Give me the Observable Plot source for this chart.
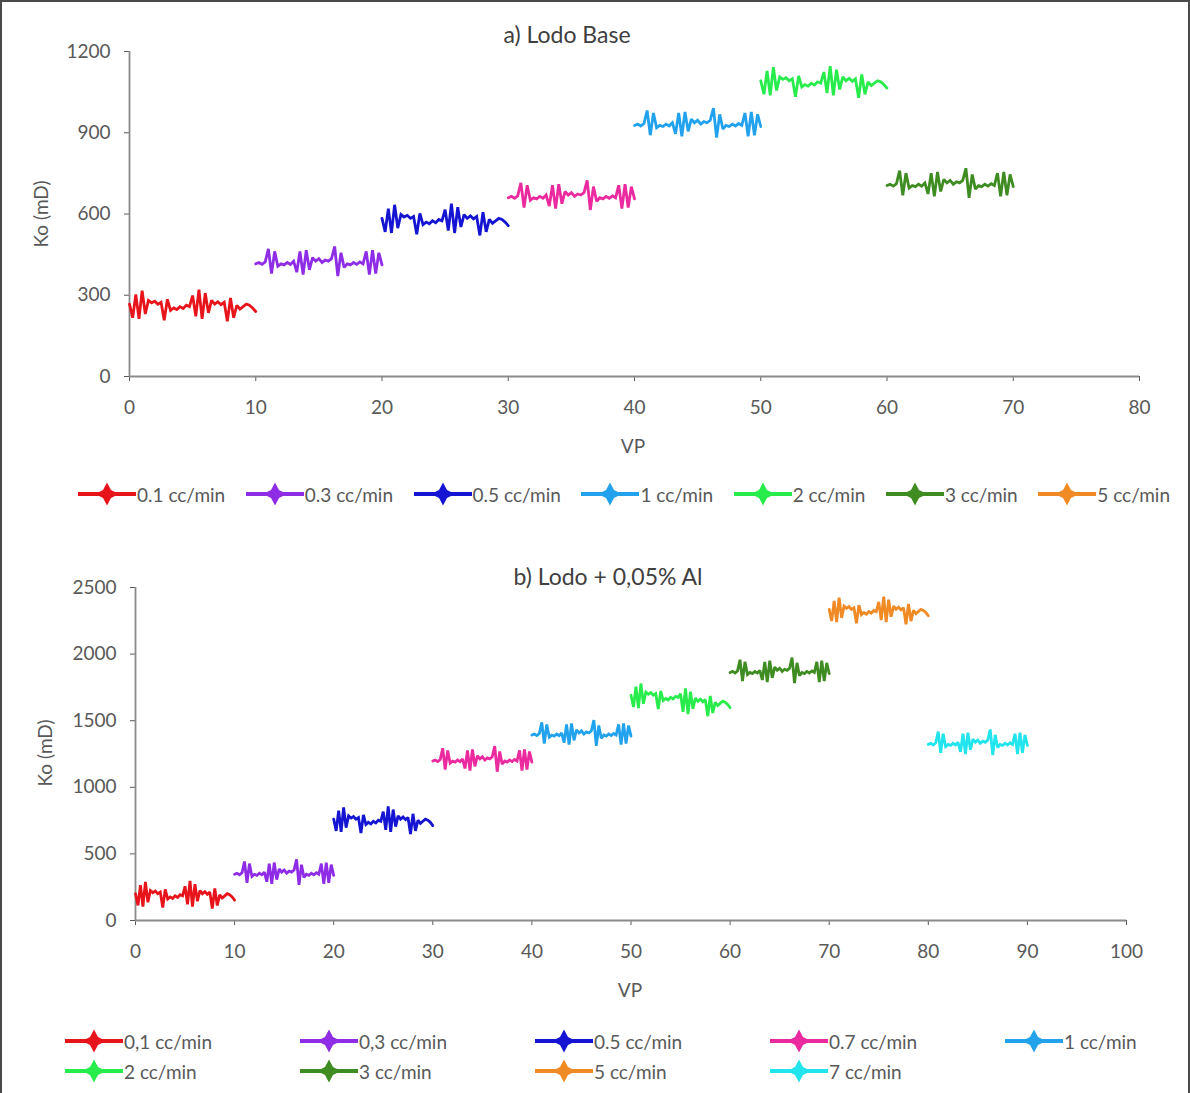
<!DOCTYPE html>
<html><head><meta charset="utf-8">
<script src="https://cdn.jsdelivr.net/npm/d3@7"></script>
<script src="https://cdn.jsdelivr.net/npm/@observablehq/plot@0.6"></script>
<style>
body{margin:0;background:#fff;}
#root{position:relative;width:1190px;height:1093px;overflow:hidden;font-family:Lato,"Open Sans",sans-serif;color:#404040;background:#fff;}
#frame{position:absolute;left:0;top:0;width:1190px;height:1093px;box-sizing:border-box;border:2px solid #4a4a4a;border-bottom:none;pointer-events:none;}
.abs{position:absolute;white-space:nowrap;}
.title{font-size:23px;transform:translate(-50%,-50%);color:#404040;}
.axlab{font-size:19px;transform:translate(-50%,-50%);color:#595959;}
.ylab{font-size:19px;transform:translate(-50%,-50%) rotate(-90deg);color:#595959;}
.legA{display:flex;justify-content:space-between;align-items:center;}
.legB{display:grid;grid-template-columns:repeat(5,235px);grid-auto-rows:30px;align-items:center;}
.item{display:flex;align-items:center;gap:1px;font-size:19px;color:#595959;}
.plot{position:absolute;left:0;}
</style>
</head><body>
<div id="root"></div>
<script>
const xStep = 0.25;

// ---------- Panel a) Lodo Base ----------
const aNames = ["0.1 cc/min","0.3 cc/min","0.5 cc/min","1 cc/min","2 cc/min","3 cc/min","5 cc/min"];
const aColors = ["#e8141c","#8e2ce6","#1414d2","#22a2ec","#27ec4c","#3f8c22","#f08a24"];
const aStarts = [0,10,20,30,40,50,60];
const aLineNames = ["0.1 cc/min","0.3 cc/min","0.5 cc/min","0.7 cc/min","1 cc/min","2 cc/min","3 cc/min"];
const aLineColors = ["#e8141c","#8e2ce6","#1414d2","#ea2a9e","#22a2ec","#27ec4c","#3f8c22"];
const a01 = [267,217,303,213,317,231,281,272,278,267,274,208,285,244,253,247,258,251,263,258,299,222,321,213,308,235,281,267,276,265,274,204,290,217,263,249,258,267,263,253,240];
const a03 = [416,421,414,423,471,380,462,407,416,412,421,414,426,385,462,376,466,394,439,426,435,421,430,426,435,480,371,457,403,416,412,421,414,423,416,462,376,466,380,457,412];
const a05 = [584,534,620,530,634,548,598,589,595,584,591,525,602,561,570,564,575,568,580,575,616,539,638,530,625,552,598,584,593,582,591,521,607,534,580,566,575,584,580,570,557];
const a07 = [660,665,658,667,715,624,706,651,660,656,665,658,670,629,706,620,710,638,683,670,679,665,674,670,679,724,615,701,647,660,656,665,658,667,660,706,620,710,624,701,656];
const a1  = [927,932,925,934,982,891,973,918,927,923,932,925,937,896,973,887,977,905,950,937,946,932,941,937,946,991,882,968,914,927,923,932,925,934,927,973,887,977,891,968,923];
const a2  = [1092,1042,1128,1038,1142,1056,1106,1097,1103,1092,1099,1033,1110,1069,1078,1072,1083,1076,1088,1083,1124,1047,1146,1038,1133,1060,1106,1092,1101,1090,1099,1029,1115,1042,1088,1074,1083,1092,1088,1078,1065];
const a3  = [705,710,703,712,760,669,751,696,705,701,710,703,715,674,751,665,755,683,728,715,724,710,719,715,724,769,660,746,692,705,701,710,703,712,705,751,665,755,669,746,701];
const aSeries = [a01,a03,a05,a07,a1,a2,a3];
const aXTicks = [0,10,20,30,40,50,60,70,80];
const aYTicks = [0,300,600,900,1200];

// ---------- Panel b) Lodo + 0,05% Al ----------
const bNames = ["0,1 cc/min","0,3 cc/min","0.5 cc/min","0.7 cc/min","1 cc/min","2 cc/min","3 cc/min","5 cc/min","7 cc/min"];
const bColors = ["#e8141c","#8e2ce6","#1414d2","#ea2a9e","#22a2ec","#27ec4c","#3f8c22","#f08a24","#22e4ec"];
const bStarts = [0,10,20,30,40,50,60,70,80];
const b01 = [201,113,265,105,289,137,225,209,221,201,213,97,233,161,177,165,185,173,193,185,257,121,297,105,273,145,225,201,217,197,213,89,241,113,193,169,185,201,193,177,153];
const b03 = [347,355,343,359,443,283,427,331,347,339,355,343,363,291,427,275,435,307,387,363,379,355,371,363,379,459,267,419,323,347,339,355,343,359,347,427,275,435,283,419,339];
const b05 = [761,673,825,665,849,697,785,769,781,761,773,657,793,721,737,725,745,733,753,745,817,681,857,665,833,705,785,761,777,757,773,649,801,673,753,729,745,761,753,737,713];
const b07 = [1197,1205,1193,1209,1293,1133,1277,1181,1197,1189,1205,1193,1213,1141,1277,1125,1285,1157,1237,1213,1229,1205,1221,1213,1229,1309,1117,1269,1173,1197,1189,1205,1193,1209,1197,1277,1125,1285,1133,1269,1189];
const b1  = [1392,1400,1388,1404,1488,1328,1472,1376,1392,1384,1400,1388,1408,1336,1472,1320,1480,1352,1432,1408,1424,1400,1416,1408,1424,1504,1312,1464,1368,1392,1384,1400,1388,1404,1392,1472,1320,1480,1328,1464,1384];
const b2  = [1691,1603,1755,1595,1779,1627,1715,1699,1711,1691,1703,1587,1723,1651,1667,1655,1675,1663,1683,1675,1702,1566,1742,1550,1718,1590,1670,1646,1662,1642,1658,1534,1686,1558,1638,1614,1630,1646,1638,1622,1598];
const b3  = [1862,1870,1858,1874,1958,1798,1942,1846,1862,1854,1870,1858,1878,1806,1942,1790,1950,1822,1902,1878,1894,1870,1886,1878,1894,1974,1782,1934,1838,1862,1854,1870,1858,1874,1862,1942,1790,1950,1798,1934,1854];
const b5  = [2336,2248,2400,2240,2424,2272,2360,2344,2356,2336,2348,2232,2368,2296,2312,2300,2320,2308,2328,2320,2392,2256,2432,2240,2408,2280,2360,2336,2352,2332,2348,2224,2376,2248,2328,2304,2320,2336,2328,2312,2288];
const b7  = [1322,1330,1318,1334,1418,1258,1402,1306,1322,1314,1330,1318,1338,1266,1402,1250,1410,1282,1362,1338,1354,1330,1346,1338,1354,1434,1242,1394,1298,1322,1314,1330,1318,1334,1322,1402,1250,1410,1258,1394,1314];
const bSeries = [b01,b03,b05,b07,b1,b2,b3,b5,b7];
const bXTicks = [0,10,20,30,40,50,60,70,80,90,100];
const bYTicks = [0,500,1000,1500,2000,2500];

const root = document.getElementById("root");

function toRows(series, names, starts) {
  const rows = [];
  series.forEach((vals, k) => vals.forEach((v, i) => rows.push({vp: starts[k] + i * xStep, ko: v, s: names[k]})));
  return rows;
}

function panel(opts) {
  const rows = toRows(opts.series, opts.names, opts.starts);
  const p = Plot.plot({
    width: 1190, height: opts.height,
    marginLeft: opts.ml, marginRight: opts.mr, marginTop: opts.mt, marginBottom: opts.mb,
    style: {fontFamily: "Lato, sans-serif", fontSize: "19px", color: "#595959", background: "transparent", overflow: "visible"},
    x: {domain: opts.xDomain},
    y: {domain: opts.yDomain},
    color: {domain: opts.names, range: opts.colors},
    marks: [
      Plot.axisX({ticks: opts.xTicks, tickSize: 5, tickPadding: 19, label: null, color: "#595959", tickFormat: d => String(d)}),
      Plot.axisY({ticks: opts.yTicks, tickSize: 5, tickPadding: 14, label: null, color: "#595959", tickFormat: d => String(d)}),
      Plot.ruleX([0], {stroke: "#8a8a8a", strokeWidth: 1.8}),
      Plot.ruleY([0], {stroke: "#8a8a8a", strokeWidth: 1.8}),
      Plot.line(rows, {x: "vp", y: "ko", z: "s", stroke: "s", strokeWidth: 2.8, strokeLinejoin: "miter", strokeMiterlimit: 2})
    ]
  });
  p.classList.add("plot");
  p.style.top = opts.top + "px";
  root.appendChild(p);
}

panel({series: aSeries, names: aLineNames, colors: aLineColors, starts: aStarts, top: 0, height: 460,
  ml: 129, mr: 51, mt: 51, mb: 84, xDomain: [0,80], yDomain: [0,1200], xTicks: aXTicks, yTicks: aYTicks});
panel({series: bSeries, names: bNames, colors: bColors, starts: bStarts, top: 540, height: 480,
  ml: 135, mr: 64, mt: 47, mb: 100, xDomain: [0,100], yDomain: [0,2500], xTicks: bXTicks, yTicks: bYTicks});

function addText(cls, text, x, y) {
  const d = document.createElement("div");
  d.className = "abs " + cls;
  d.style.left = x + "px"; d.style.top = y + "px";
  d.textContent = text;
  root.appendChild(d);
}
addText("title", "a) Lodo Base", 567, 34);
addText("title", "b) Lodo + 0,05% Al", 608, 576);
addText("axlab", "VP", 633, 445);
addText("axlab", "VP", 630, 989);
addText("ylab", "Ko (mD)", 40, 214);
addText("ylab", "Ko (mD)", 44, 753);

function marker(color) {
  return `<svg width="58" height="26" viewBox="0 0 58 26"><line x1="0" y1="13" x2="58" y2="13" stroke="${color}" stroke-width="4"/>` +
    `<polygon points="29,1.5 33,9 41,13 33,17 29,24.5 25,17 17,13 25,9" fill="${color}"/></svg>`;
}
function legend(cls, names, colors, x, y, w) {
  const d = document.createElement("div");
  d.className = "abs " + cls;
  d.style.left = x + "px"; d.style.top = y + "px";
  if (w) d.style.width = w + "px";
  names.forEach((n, i) => {
    const it = document.createElement("div");
    it.className = "item";
    it.innerHTML = marker(colors[i]) + `<span>${n}</span>`;
    d.appendChild(it);
  });
  root.appendChild(d);
}
legend("legA", aNames, aColors, 78, 481, 1092);
legend("legB", bNames, bColors, 65, 1026, null);

const fr = document.createElement("div"); fr.id = "frame"; root.appendChild(fr);
</script>
</body></html>
